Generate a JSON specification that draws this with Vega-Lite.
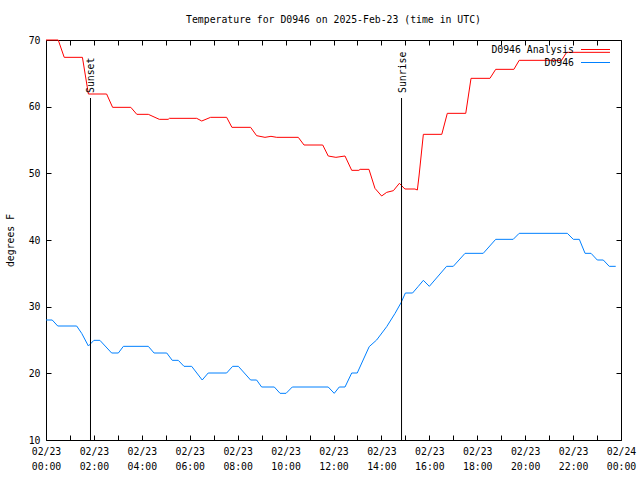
{
  "$schema": "https://vega.github.io/schema/vega-lite/v6.json",
  "width": 575,
  "height": 400,
  "autosize": {"type": "none"},
  "padding": {"left": 46, "top": 40, "right": 19, "bottom": 40},
  "background": "white",
  "config": {
    "view": {"stroke": null},
    "font": "DejaVu Sans Mono",
    "axis": {
      "grid": false,
      "domain": true,
      "domainColor": "black",
      "domainWidth": 1,
      "zindex": 0,
      "tickColor": "black",
      "tickSize": -5,
      "labelColor": "black",
      "labelFont": "DejaVu Sans Mono",
      "labelFontSize": 9.8,
      "titleFont": "DejaVu Sans Mono",
      "titleFontSize": 9.8,
      "titleFontWeight": "normal",
      "titleColor": "black"
    }
  },
  "title": {
    "text": "Temperature for D0946 on 2025-Feb-23 (time in UTC)",
    "font": "DejaVu Sans Mono",
    "fontSize": 9.8,
    "fontWeight": "normal",
    "color": "black",
    "anchor": "middle",
    "offset": 10
  },
  "datasets": {
    "temps": [
      {"h": 0.0, "t": 70, "s": "D0946 Analysis"},
      {"h": 0.51, "t": 70, "s": "D0946 Analysis"},
      {"h": 0.76, "t": 67.4, "s": "D0946 Analysis"},
      {"h": 1.52, "t": 67.4, "s": "D0946 Analysis"},
      {"h": 1.77, "t": 61.9, "s": "D0946 Analysis"},
      {"h": 2.53, "t": 61.9, "s": "D0946 Analysis"},
      {"h": 2.78, "t": 59.9, "s": "D0946 Analysis"},
      {"h": 3.54, "t": 59.9, "s": "D0946 Analysis"},
      {"h": 3.79, "t": 58.85, "s": "D0946 Analysis"},
      {"h": 4.27, "t": 58.85, "s": "D0946 Analysis"},
      {"h": 4.73, "t": 58.1, "s": "D0946 Analysis"},
      {"h": 5.1, "t": 58.1, "s": "D0946 Analysis"},
      {"h": 5.15, "t": 58.25, "s": "D0946 Analysis"},
      {"h": 6.29, "t": 58.25, "s": "D0946 Analysis"},
      {"h": 6.5, "t": 57.85, "s": "D0946 Analysis"},
      {"h": 6.87, "t": 58.4, "s": "D0946 Analysis"},
      {"h": 7.54, "t": 58.4, "s": "D0946 Analysis"},
      {"h": 7.76, "t": 56.9, "s": "D0946 Analysis"},
      {"h": 8.54, "t": 56.9, "s": "D0946 Analysis"},
      {"h": 8.79, "t": 55.65, "s": "D0946 Analysis"},
      {"h": 9.14, "t": 55.4, "s": "D0946 Analysis"},
      {"h": 9.39, "t": 55.55, "s": "D0946 Analysis"},
      {"h": 9.63, "t": 55.4, "s": "D0946 Analysis"},
      {"h": 10.53, "t": 55.4, "s": "D0946 Analysis"},
      {"h": 10.77, "t": 54.25, "s": "D0946 Analysis"},
      {"h": 11.55, "t": 54.25, "s": "D0946 Analysis"},
      {"h": 11.78, "t": 52.6, "s": "D0946 Analysis"},
      {"h": 12.1, "t": 52.4, "s": "D0946 Analysis"},
      {"h": 12.48, "t": 52.6, "s": "D0946 Analysis"},
      {"h": 12.76, "t": 50.45, "s": "D0946 Analysis"},
      {"h": 13.06, "t": 50.45, "s": "D0946 Analysis"},
      {"h": 13.11, "t": 50.6, "s": "D0946 Analysis"},
      {"h": 13.48, "t": 50.6, "s": "D0946 Analysis"},
      {"h": 13.73, "t": 47.75, "s": "D0946 Analysis"},
      {"h": 14.01, "t": 46.6, "s": "D0946 Analysis"},
      {"h": 14.22, "t": 47.15, "s": "D0946 Analysis"},
      {"h": 14.5, "t": 47.4, "s": "D0946 Analysis"},
      {"h": 14.75, "t": 48.5, "s": "D0946 Analysis"},
      {"h": 14.98, "t": 47.65, "s": "D0946 Analysis"},
      {"h": 15.4, "t": 47.65, "s": "D0946 Analysis"},
      {"h": 15.5, "t": 47.5, "s": "D0946 Analysis"},
      {"h": 15.57, "t": 49.6, "s": "D0946 Analysis"},
      {"h": 15.75, "t": 55.85, "s": "D0946 Analysis"},
      {"h": 16.52, "t": 55.85, "s": "D0946 Analysis"},
      {"h": 16.75, "t": 59.0, "s": "D0946 Analysis"},
      {"h": 17.52, "t": 59.0, "s": "D0946 Analysis"},
      {"h": 17.74, "t": 64.25, "s": "D0946 Analysis"},
      {"h": 18.53, "t": 64.25, "s": "D0946 Analysis"},
      {"h": 18.77, "t": 65.6, "s": "D0946 Analysis"},
      {"h": 19.53, "t": 65.6, "s": "D0946 Analysis"},
      {"h": 19.75, "t": 66.95, "s": "D0946 Analysis"},
      {"h": 21.52, "t": 66.95, "s": "D0946 Analysis"},
      {"h": 21.73, "t": 68.15, "s": "D0946 Analysis"},
      {"h": 23.54, "t": 68.15, "s": "D0946 Analysis"},
      {"h": 0.0, "t": 28.0, "s": "D0946"},
      {"h": 0.26, "t": 28.0, "s": "D0946"},
      {"h": 0.49, "t": 27.1, "s": "D0946"},
      {"h": 1.28, "t": 27.1, "s": "D0946"},
      {"h": 1.49, "t": 26.0, "s": "D0946"},
      {"h": 1.77, "t": 24.1, "s": "D0946"},
      {"h": 2.0, "t": 24.95, "s": "D0946"},
      {"h": 2.25, "t": 24.95, "s": "D0946"},
      {"h": 2.74, "t": 23.05, "s": "D0946"},
      {"h": 3.02, "t": 23.05, "s": "D0946"},
      {"h": 3.23, "t": 24.05, "s": "D0946"},
      {"h": 4.27, "t": 24.05, "s": "D0946"},
      {"h": 4.51, "t": 23.05, "s": "D0946"},
      {"h": 5.04, "t": 23.05, "s": "D0946"},
      {"h": 5.27, "t": 21.95, "s": "D0946"},
      {"h": 5.52, "t": 21.95, "s": "D0946"},
      {"h": 5.76, "t": 21.05, "s": "D0946"},
      {"h": 6.08, "t": 21.05, "s": "D0946"},
      {"h": 6.52, "t": 19.0, "s": "D0946"},
      {"h": 6.77, "t": 20.05, "s": "D0946"},
      {"h": 7.54, "t": 20.05, "s": "D0946"},
      {"h": 7.79, "t": 21.05, "s": "D0946"},
      {"h": 8.03, "t": 21.05, "s": "D0946"},
      {"h": 8.54, "t": 19.0, "s": "D0946"},
      {"h": 8.79, "t": 19.0, "s": "D0946"},
      {"h": 9.0, "t": 17.95, "s": "D0946"},
      {"h": 9.53, "t": 17.95, "s": "D0946"},
      {"h": 9.77, "t": 17.0, "s": "D0946"},
      {"h": 10.02, "t": 17.0, "s": "D0946"},
      {"h": 10.28, "t": 17.95, "s": "D0946"},
      {"h": 11.78, "t": 17.95, "s": "D0946"},
      {"h": 12.03, "t": 17.0, "s": "D0946"},
      {"h": 12.24, "t": 17.95, "s": "D0946"},
      {"h": 12.48, "t": 17.95, "s": "D0946"},
      {"h": 12.76, "t": 20.05, "s": "D0946"},
      {"h": 12.99, "t": 20.05, "s": "D0946"},
      {"h": 13.49, "t": 24.0, "s": "D0946"},
      {"h": 13.8, "t": 25.0, "s": "D0946"},
      {"h": 14.22, "t": 27.0, "s": "D0946"},
      {"h": 14.57, "t": 29.0, "s": "D0946"},
      {"h": 14.82, "t": 30.6, "s": "D0946"},
      {"h": 15.0, "t": 32.05, "s": "D0946"},
      {"h": 15.3, "t": 32.05, "s": "D0946"},
      {"h": 15.54, "t": 33.05, "s": "D0946"},
      {"h": 15.75, "t": 33.95, "s": "D0946"},
      {"h": 16.0, "t": 33.05, "s": "D0946"},
      {"h": 16.72, "t": 36.05, "s": "D0946"},
      {"h": 17.0, "t": 36.05, "s": "D0946"},
      {"h": 17.49, "t": 38.0, "s": "D0946"},
      {"h": 18.25, "t": 38.0, "s": "D0946"},
      {"h": 18.77, "t": 40.1, "s": "D0946"},
      {"h": 19.5, "t": 40.1, "s": "D0946"},
      {"h": 19.75, "t": 41.0, "s": "D0946"},
      {"h": 21.76, "t": 41.0, "s": "D0946"},
      {"h": 22.01, "t": 40.1, "s": "D0946"},
      {"h": 22.26, "t": 40.1, "s": "D0946"},
      {"h": 22.5, "t": 38.0, "s": "D0946"},
      {"h": 22.75, "t": 38.0, "s": "D0946"},
      {"h": 23.01, "t": 37.0, "s": "D0946"},
      {"h": 23.26, "t": 37.0, "s": "D0946"},
      {"h": 23.51, "t": 36.05, "s": "D0946"},
      {"h": 23.78, "t": 36.05, "s": "D0946"}
    ],
    "events": [
      {"h": 1.857, "label": "Sunset", "top": 61.3, "bottom": 10, "textY": 62.05},
      {"h": 14.84, "label": "Sunrise", "top": 61.3, "bottom": 10, "textY": 62.05}
    ]
  },
  "layer": [
    {
      "data": {"name": "temps"},
      "mark": {"type": "line", "strokeWidth": 1, "interpolate": "linear"},
      "encoding": {
        "x": {
          "field": "h",
          "type": "quantitative",
          "scale": {"domain": [0, 24], "nice": false, "zero": false},
          "axis": {
            "orient": "bottom",
            "title": null,
            "values": [0,1,2,3,4,5,6,7,8,9,10,11,12,13,14,15,16,17,18,19,20,21,22,23,24],
            "labelExpr": "datum.value % 2 == 0 ? [datum.value == 24 ? '02/24' : '02/23', (datum.value % 24 < 10 ? '0' : '') + (datum.value % 24) + ':00'] : ''",
            "labelLineHeight": 15,
            "labelPadding": 11,
            "labelOverlap": false,
            "labelFlush": false
          }
        },
        "y": {
          "field": "t",
          "type": "quantitative",
          "scale": {"domain": [10, 70], "nice": false, "zero": false},
          "axis": {
            "orient": "left",
            "title": "degrees F",
            "values": [10, 20, 30, 40, 50, 60, 70],
            "labelPadding": 11,
            "titlePadding": 13
          }
        },
        "color": {
          "field": "s",
          "type": "nominal",
          "scale": {"domain": ["D0946 Analysis", "D0946"], "range": ["#ff0000", "#0080ff"]},
          "legend": {
            "orient": "none",
            "legendX": 544,
            "legendY": 4,
            "title": null,
            "symbolType": "M-2.9,0H2.9",
            "symbolSize": 100,
            "symbolStrokeWidth": 1,
            "labelAlign": "right",
            "labelOffset": -27,
            "labelFont": "DejaVu Sans Mono",
            "labelFontSize": 9.8,
            "labelColor": "black",
            "rowPadding": 2,
            "padding": 0
          }
        }
      }
    },
    {
      "data": {"name": "events"},
      "mark": {"type": "rule", "color": "black", "strokeWidth": 1},
      "encoding": {
        "x": {
          "field": "h",
          "type": "quantitative",
          "axis": {
            "orient": "top",
            "title": null,
            "labels": false,
            "values": [0,1,2,3,4,5,6,7,8,9,10,11,12,13,14,15,16,17,18,19,20,21,22,23,24]
          }
        },
        "y": {
          "field": "top",
          "type": "quantitative",
          "axis": {
            "orient": "right",
            "title": null,
            "labels": false,
            "values": [10, 20, 30, 40, 50, 60, 70]
          }
        },
        "y2": {"field": "bottom"}
      }
    },
    {
      "data": {"name": "events"},
      "mark": {"type": "text", "angle": 270, "align": "left", "baseline": "middle", "font": "DejaVu Sans Mono", "fontSize": 9.8, "color": "black", "dy": 1},
      "encoding": {
        "x": {"field": "h", "type": "quantitative", "axis": null},
        "y": {"field": "textY", "type": "quantitative", "axis": null},
        "text": {"field": "label"}
      }
    }
  ],
  "resolve": {"axis": {"x": "independent", "y": "independent"}}
}
